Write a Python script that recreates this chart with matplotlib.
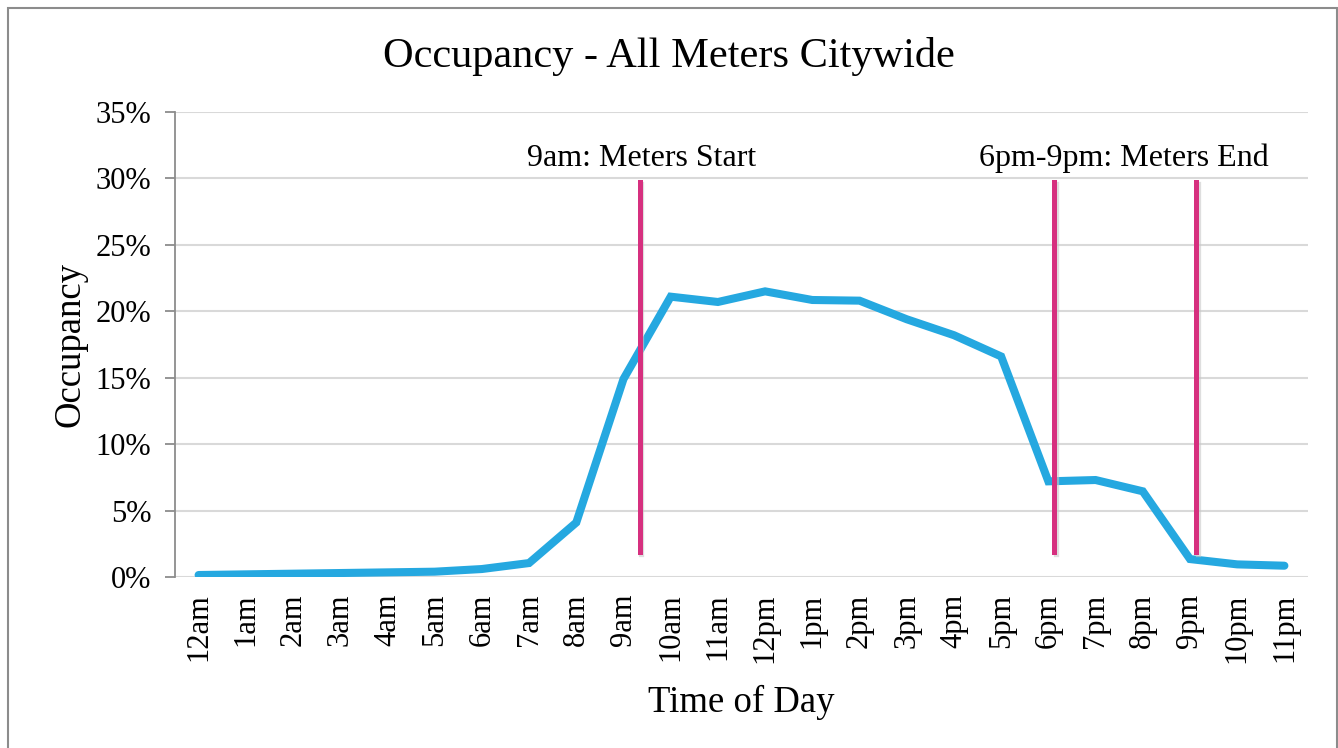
import matplotlib.pyplot as plt
from matplotlib.patches import Rectangle
from matplotlib.ticker import FuncFormatter, MultipleLocator

plt.rcParams['font.family'] = ['Liberation Serif', 'DejaVu Serif']

hours = ['12am', '1am', '2am', '3am', '4am', '5am', '6am', '7am', '8am', '9am',
         '10am', '11am', '12pm', '1pm', '2pm', '3pm', '4pm', '5pm', '6pm', '7pm',
         '8pm', '9pm', '10pm', '11pm']
occupancy = [0.15, 0.2, 0.25, 0.3, 0.35, 0.4, 0.6, 1.05, 4.1, 14.9,
             21.1, 20.7, 21.5, 20.85, 20.8, 19.4, 18.2, 16.6, 7.2, 7.3,
             6.45, 1.35, 0.95, 0.85]

# marker lines (position in hour units) and their labels
marker_x = [9.34, 18.13, 21.12]
marker_low, marker_high = 1.9, 29.7
notes = ['9am: Meters Start', '6pm-9pm: Meters End']
note_x = [9.38, 19.6]

fig = plt.figure(figsize=(13.38, 7.48), dpi=100)
ax = fig.add_axes([175 / 1338, 1 - 577 / 748, 1133 / 1338, 465 / 748])

x = list(range(len(hours)))
ax.plot(x, occupancy, color='#25A8E0', lw=5.8, solid_capstyle='round',
        solid_joinstyle='miter', zorder=3)

for mx in marker_x:
    ax.plot([mx + 0.04, mx + 0.04], [marker_low - 0.15, marker_high - 0.15],
            color='#c8c8c8', lw=3.8, alpha=0.6, zorder=3.5)
    ax.plot([mx, mx], [marker_low, marker_high], color='#D6307F', lw=3.6,
            zorder=4)

for t, nx in zip(notes, note_x):
    ax.text(nx, 31.5, t, ha='center', va='center', fontsize=23)

ax.set_xlim(-0.5, 23.5)
ax.set_ylim(0, 35)
ax.yaxis.set_major_locator(MultipleLocator(5))
ax.yaxis.set_major_formatter(FuncFormatter(lambda v, p: f'{v:.0f}%'))
ax.set_xticks(x)
ax.set_xticklabels(hours, rotation=90, fontsize=22)
ax.tick_params(axis='y', labelsize=22, length=7, width=1.3, color='#8c8c8c', pad=10)
ax.tick_params(axis='x', length=0, pad=12)

ax.grid(axis='y', color='#d9d9d9', lw=1.5)
ax.set_axisbelow(True)
for s in ['top', 'right', 'bottom']:
    ax.spines[s].set_visible(False)
ax.spines['left'].set_color('#8c8c8c')
ax.spines['left'].set_linewidth(1.3)

fig.text(0.5, 1 - 57 / 748, 'Occupancy - All Meters Citywide', fontsize=30.5,
         ha='center', va='center')
ax.set_xlabel('Time of Day', fontsize=26.5, labelpad=16)
ax.set_ylabel('Occupancy', fontsize=26.5, labelpad=6)

fig.patches.append(Rectangle((8 / 1338, -0.05), 1329 / 1338, 1.05 - 8 / 748,
                             transform=fig.transFigure, fill=False,
                             edgecolor='#8c8c8c', lw=1.5))

fig.savefig('out.png', dpi=100)
